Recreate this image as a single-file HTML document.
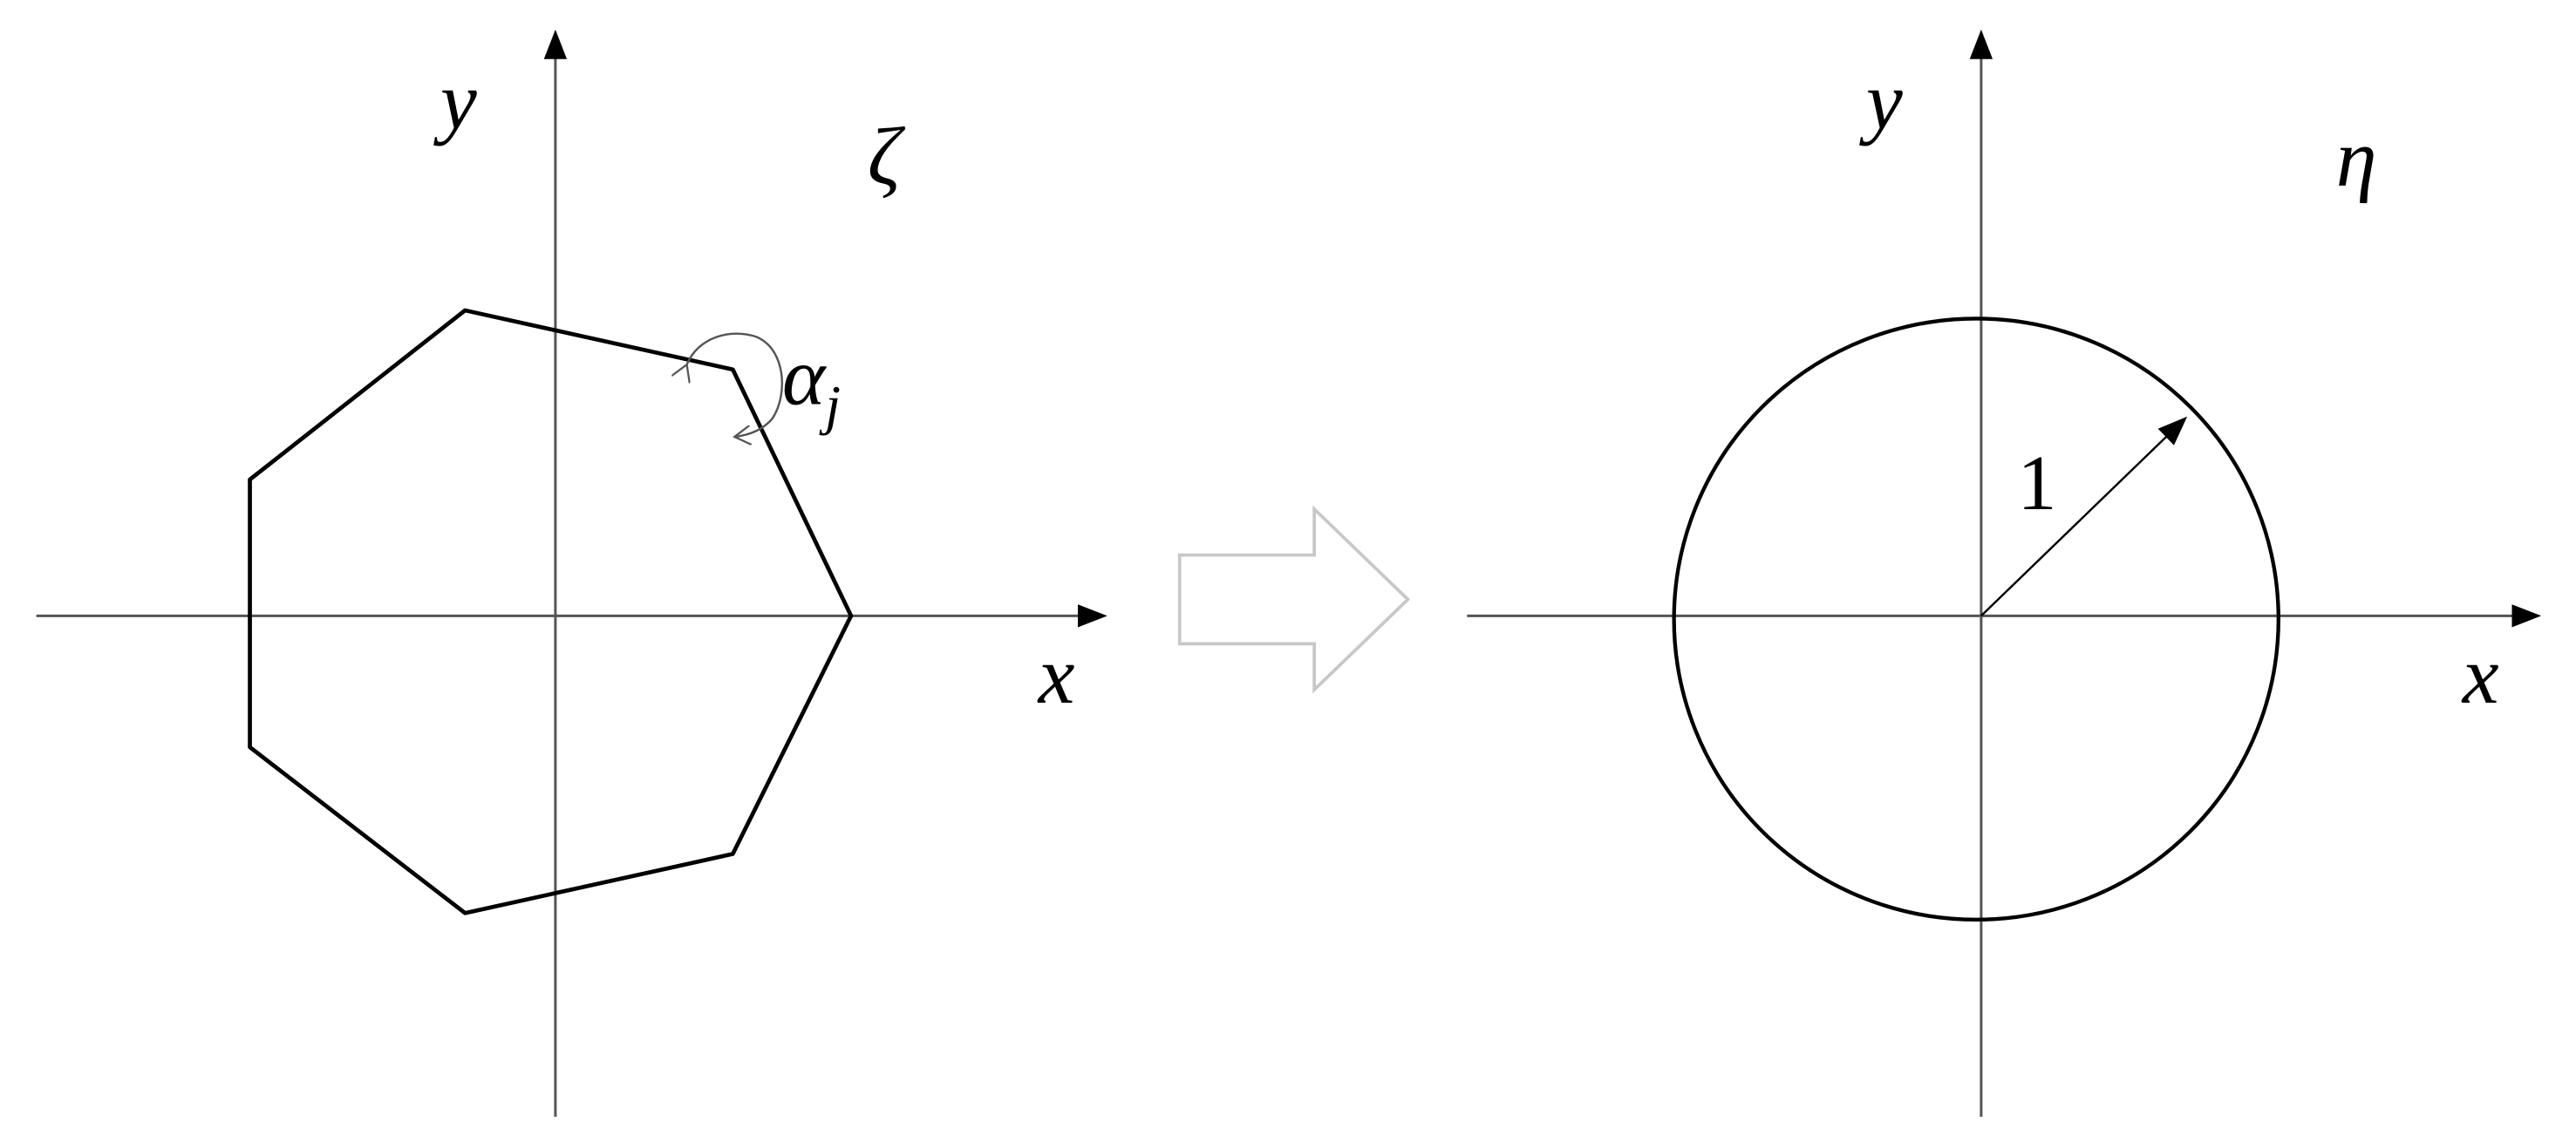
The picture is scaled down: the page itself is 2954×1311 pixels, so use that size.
<!DOCTYPE html>
<html><head><style>html,body{margin:0;padding:0;background:#fff;}svg{display:block}</style></head>
<body>
<svg width="2954" height="1311" viewBox="0 0 1568 696" xmlns="http://www.w3.org/2000/svg">
<defs>
<marker id="ah2" markerWidth="18" markerHeight="14" refX="16" refY="7" orient="auto" markerUnits="userSpaceOnUse"><path d="M0,0 L18,7 L0,14 Z" fill="#000"/></marker>
<marker id="op" markerWidth="12" markerHeight="12" refX="10" refY="6" orient="auto" markerUnits="userSpaceOnUse"><path d="M0,0 L10,6 L0,12" fill="none" stroke="#555" stroke-width="1.2"/></marker>
</defs>
<g stroke="#555" stroke-width="1.6" fill="none">
<line x1="22" y1="375" x2="672" y2="375" marker-end="url(#ah2)"/>
<line x1="338" y1="680" x2="338" y2="20" marker-end="url(#ah2)"/>
<line x1="893" y1="375" x2="1545" y2="375" marker-end="url(#ah2)"/>
<line x1="1206" y1="680" x2="1206" y2="20" marker-end="url(#ah2)"/>
</g>
<polygon points="283,189 446,225 518,375 446,520 283,556 152,455 152,292" fill="none" stroke="#000" stroke-width="2.5" stroke-linejoin="round"/>
<path d="M418,222 C425,205 445,200 460,205 C478,212 480,240 470,255 C464,262 456,265 447,266" fill="none" stroke="#555" stroke-width="1.3" marker-start="url(#op)" marker-end="url(#op)"/>
<ellipse cx="1203" cy="377" rx="184" ry="183" fill="none" stroke="#000" stroke-width="2.3"/>
<line x1="1206" y1="375" x2="1330" y2="255" stroke="#000" stroke-width="1.3" marker-end="url(#ah2)"/>
<path d="M718,338 L800,338 L800,310 L857,365 L800,420 L800,392 L718,392 Z" fill="#fff" stroke="#c8c8c8" stroke-width="2"/>
<g font-family="Liberation Serif, serif" font-style="italic" font-size="50" fill="#000">
<text x="268" y="78">y</text>
<text x="528" y="112">ζ</text>
<text x="476" y="246">α<tspan font-size="34" dy="12">j</tspan></text>
<text x="632" y="428">x</text>
<text x="1136" y="78">y</text>
<text x="1422" y="113">η</text>
<text x="1499" y="428">x</text>
</g>
<text x="1228" y="310" font-family="Liberation Serif, serif" font-size="48" fill="#000">1</text>
</svg>
</body></html>
